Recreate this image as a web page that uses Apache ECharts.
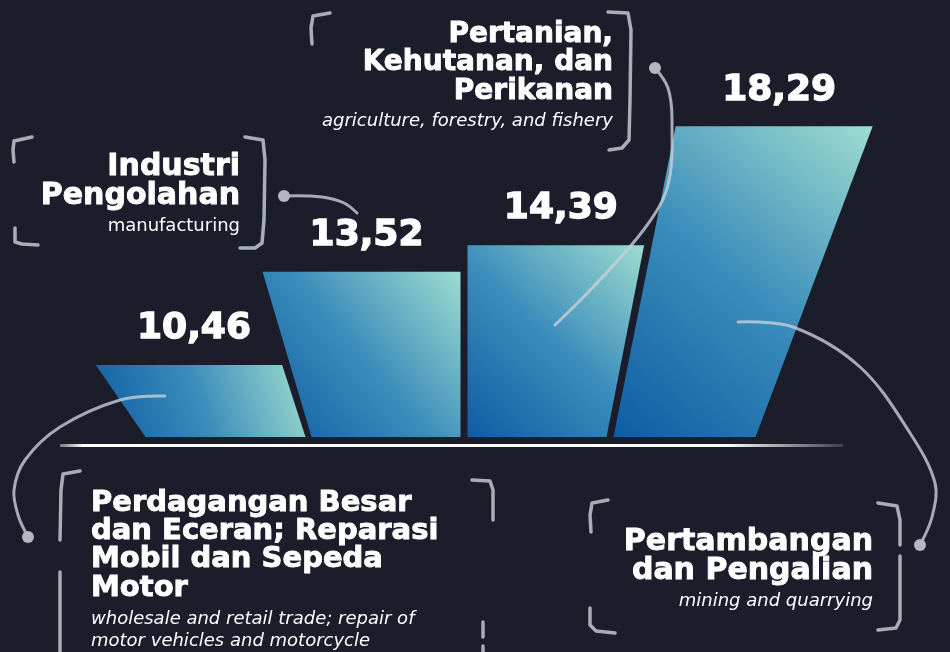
<!DOCTYPE html>
<html>
<head>
<meta charset="utf-8">
<script src="https://cdn.jsdelivr.net/npm/echarts@6/dist/echarts.min.js"></script>
<style>
html, body { margin: 0; padding: 0; background: #1b1e2a; }
#chart { width: 950px; height: 652px; }
</style>
</head>
<body>
<div id="chart"></div>
<script>
// sektor, urut sesuai batang dari kiri ke kanan
var sectors = ['Perdagangan', 'Industri', 'Pertanian', 'Pertambangan'];
var values = [10.46, 13.52, 14.39, 18.29];
var titles = [
  'Perdagangan Besar\ndan Eceran; Reparasi\nMobil dan Sepeda\nMotor',
  'Industri\nPengolahan',
  'Pertanian,\nKehutanan, dan\nPerikanan',
  'Pertambangan\ndan Pengalian'
];
var subtitles = [
  'wholesale and retail trade; repair of\nmotor vehicles and motorcycle',
  'manufacturing',
  'agriculture, forestry, and fishery',
  'mining and quarrying'
];
var yMin = 8.1;
var yMax = 22;

// bentuk batang: [offset kiri bawah, offset kanan bawah, kemiringan kiri, kemiringan kanan]
var barShapes = [
  [-84, 76, -0.69, -0.324],
  [-71, 78, -0.296, 0],
  [-68, 71, 0, 0.196],
  [-75, 67, 0.2, 0.377]
];

// posisi blok teks
var textLayout = [
  { x: 91, y: 489, align: 'left', size: 29, lh: 28.3, subY: 608.6, subLh: 22, italic: true },
  { x: 240, y: 152.5, align: 'right', size: 30, lh: 29, subY: 215.6, subLh: 22, italic: false },
  { x: 613, y: 20.4, align: 'right', size: 28, lh: 28.5, subY: 110.6, subLh: 22, italic: true },
  { x: 873, y: 528.2, align: 'right', size: 30, lh: 29, subY: 590.3, subLh: 22, italic: true }
];

var FONT = '"DejaVu Sans", "Noto Sans", sans-serif';
var LINE = '#a9adb7';

var chart = echarts.init(document.getElementById('chart'));

var barFill = new echarts.graphic.LinearGradient(0, 1, 1, 0, [
  { offset: 0, color: '#0e60a9' },
  { offset: 0.5, color: '#3d92c1' },
  { offset: 1, color: '#a4e4d6' }
]);

function fmt(v) {
  return v.toFixed(2).replace('.', ',');
}

function stroke(points, smooth, color, width, z) {
  return {
    type: 'polyline', silent: true, z: z,
    shape: { points: points, smooth: smooth },
    style: { stroke: color, lineWidth: width, fill: null, lineCap: 'round', lineJoin: 'round' }
  };
}

function dot(x, y) {
  return { type: 'circle', silent: true, z: 11, shape: { cx: x, cy: y, r: 6 }, style: { fill: '#b3b7c0' } };
}

var graphics = [];

// garis dasar
graphics.push({
  type: 'rect', silent: true, z: 1,
  shape: { x: 60, y: 444, width: 783, height: 3 },
  style: {
    fill: new echarts.graphic.LinearGradient(0, 0, 1, 0, [
      { offset: 0, color: 'rgba(255,255,255,0.4)' },
      { offset: 0.03, color: '#ffffff' },
      { offset: 0.85, color: '#ffffff' },
      { offset: 1, color: 'rgba(255,255,255,0.15)' }
    ])
  }
});

// kurung
var brackets = [
  [[330, 13], [313, 16], [311, 28], [312, 44]],
  [[608, 12], [628, 13], [631, 30], [630, 100], [629, 140], [622, 148], [609, 150]],
  [[32, 137], [14, 141], [13, 150], [14, 162]],
  [[15, 228], [15, 242], [22, 244], [38, 245]],
  [[245, 137], [263, 140], [265, 160], [264, 220], [262, 243], [255, 248], [240, 248]],
  [[80, 471], [63, 474], [61, 490], [60, 540]],
  [[60, 572], [60, 652]],
  [[472, 480], [490, 481], [493, 490], [493, 520]],
  [[483, 622], [483, 637]],
  [[483, 646], [483, 652]],
  [[608, 500], [592, 503], [590, 515], [591, 532]],
  [[590, 608], [590, 625], [596, 631], [615, 633]],
  [[878, 503], [897, 506], [900, 520], [900, 545]],
  [[900, 556], [900, 620], [896, 628], [878, 630]]
];
brackets.forEach(function (p) {
  graphics.push(stroke(p, 0, LINE, 3.5, 1));
});

// garis penghubung
var connectors = [
  [[165, 396], [120, 400], [60, 427], [25, 460], [14, 490], [18, 515], [28, 537]],
  [[284, 196], [322, 197], [344, 203], [357, 213]],
  [[655, 68], [668, 88], [672, 120], [668, 185], [645, 228], [595, 285], [555, 325]],
  [[738, 322], [793, 327], [860, 367], [910, 433], [935, 483], [932, 517], [920, 545]]
];
connectors.forEach(function (p) {
  graphics.push(stroke(p, 0.35, 'rgba(200,206,216,0.8)', 3, 10));
});
graphics.push(dot(28, 537), dot(284, 196), dot(655, 68), dot(920, 545));

// teks kategori
titles.forEach(function (t, i) {
  var L = textLayout[i];
  graphics.push({
    type: 'text', silent: true, z: 12, x: L.x, y: L.y,
    style: {
      text: t, fill: '#ffffff', stroke: '#ffffff', lineWidth: 0.9,
      align: L.align, verticalAlign: 'top',
      font: 'bold ' + L.size + 'px ' + FONT, lineHeight: L.lh
    }
  });
  graphics.push({
    type: 'text', silent: true, z: 12, x: L.x, y: L.subY,
    style: {
      text: subtitles[i], fill: '#ffffff', align: L.align, verticalAlign: 'top',
      font: (L.italic ? 'italic ' : '') + '18px ' + FONT, lineHeight: L.subLh
    }
  });
});

var option = {
  backgroundColor: '#1b1e2a',
  animation: false,
  grid: { left: 153, right: 185, top: 13, bottom: 215 },
  xAxis: { type: 'category', data: sectors, show: false },
  yAxis: { type: 'value', min: yMin, max: yMax, show: false },
  graphic: graphics,
  series: [{
    type: 'custom',
    data: values.map(function (v, i) { return [i, v]; }),
    renderItem: function (params, api) {
      var i = params.dataIndex;
      var v = api.value(1);
      var top = api.coord([i, v]);
      var base = api.coord([i, yMin]);
      var h = base[1] - top[1];
      var s = barShapes[i];
      var cx = top[0];
      var bl = cx + s[0], br = cx + s[1];
      var tl = bl + s[2] * h, tr = br + s[3] * h;
      return {
        type: 'group',
        children: [{
          type: 'polygon',
          shape: { points: [[tl, top[1]], [tr, top[1]], [br, base[1]], [bl, base[1]]] },
          style: { fill: barFill, opacity: 0.96 }
        }, {
          type: 'text',
          x: (tl + tr) / 2 + 5,
          y: top[1] - 36,
          style: {
            text: fmt(v), fill: '#ffffff', stroke: '#ffffff', lineWidth: 1.4,
            align: 'center', verticalAlign: 'middle',
            font: 'bold 36px ' + FONT
          }
        }]
      };
    }
  }]
};

chart.setOption(option);
</script>
</body>
</html>
